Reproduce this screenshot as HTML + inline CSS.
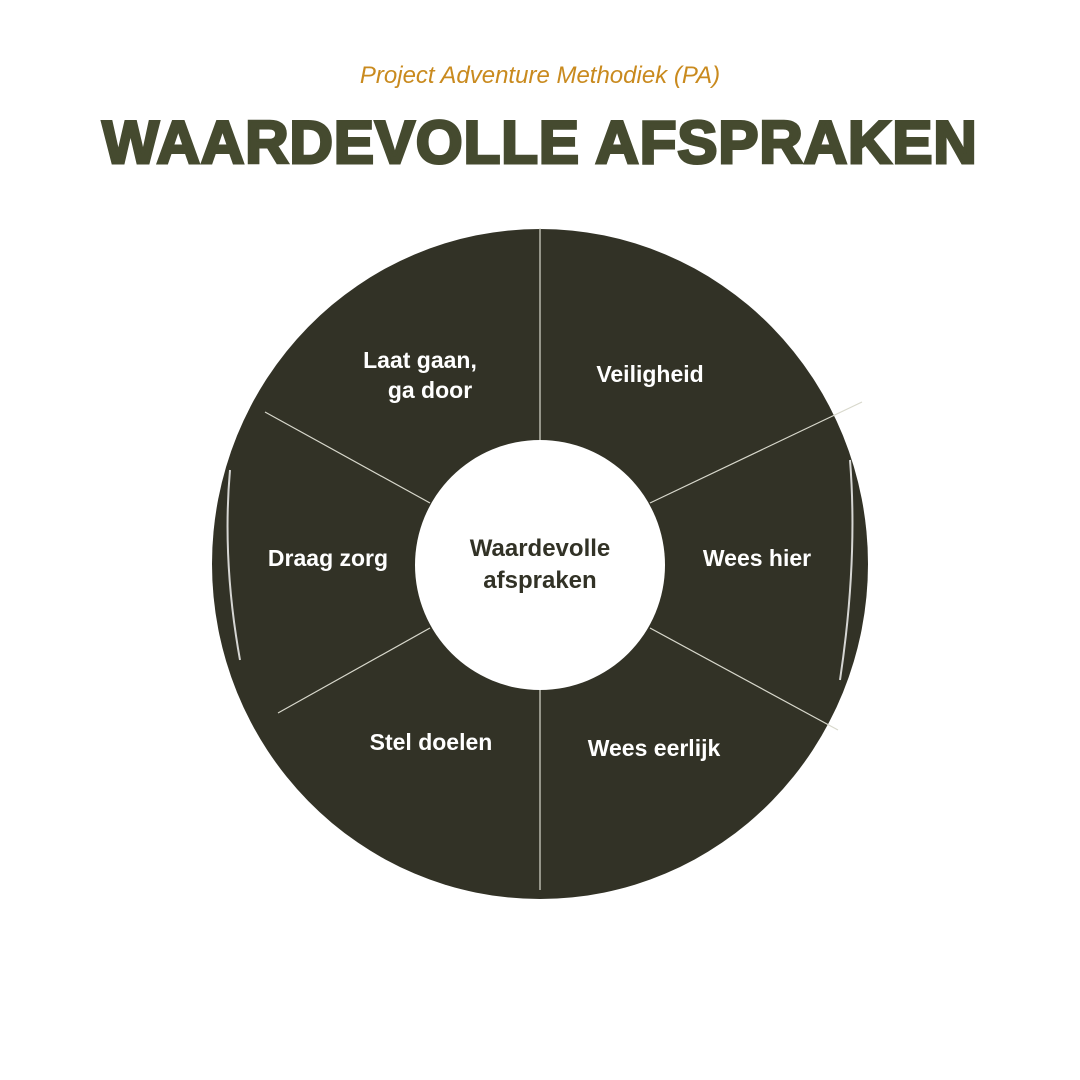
<!DOCTYPE html>
<html><head><style>
html,body{margin:0;padding:0;background:#fff;}
body{width:1080px;height:1080px;position:relative;overflow:hidden;font-family:"Liberation Sans",sans-serif;}
.sub{position:absolute;top:62px;left:0;width:1080px;text-align:center;color:#c98a1e;font-size:24px;font-family:"Liberation Sans Narrow","Liberation Sans",sans-serif;font-style:italic;}
.title{position:absolute;top:108px;left:0;width:1080px;text-align:center;color:#454a2f;font-size:60px;font-weight:900;letter-spacing:1px;-webkit-text-stroke:3px #454a2f;}
</style></head><body>
<div class="sub">Project Adventure Methodiek (PA)</div>
<div class="title">WAARDEVOLLE AFSPRAKEN</div>
<svg width="1080" height="1080" style="position:absolute;left:0;top:0">
<ellipse cx="540" cy="564" rx="328" ry="335" fill="#323226"/>
<g stroke="#fff" stroke-width="2" fill="none" opacity="0.8">
<path d="M230 470 Q222 560 240 660" />
<path d="M850 460 Q858 560 840 680"/>
</g>
<g stroke="#d8d8cc" stroke-width="1.2">
<line x1="540" y1="228" x2="540" y2="440"/>
<line x1="540" y1="690" x2="540" y2="890"/>
<line x1="650" y1="503" x2="862" y2="402"/>
<line x1="650" y1="628" x2="838" y2="730"/>
<line x1="430" y1="503" x2="265" y2="412"/>
<line x1="430" y1="628" x2="278" y2="713"/>
</g>
<circle cx="540" cy="565" r="125" fill="#fff"/>
<g font-family="Liberation Sans, sans-serif" font-size="23" fill="#fff" text-anchor="middle" font-weight="bold">
<text x="420" y="368">Laat gaan,</text>
<text x="430" y="398">ga door</text>
<text x="650" y="382">Veiligheid</text>
<text x="757" y="566">Wees hier</text>
<text x="654" y="756">Wees eerlijk</text>
<text x="431" y="750">Stel doelen</text>
<text x="328" y="566">Draag zorg</text>
</g>
<g font-family="Liberation Sans, sans-serif" font-size="24" fill="#323226" text-anchor="middle" font-weight="bold">
<text x="540" y="556">Waardevolle</text>
<text x="540" y="588">afspraken</text>
</g>
</svg>
</body></html>
